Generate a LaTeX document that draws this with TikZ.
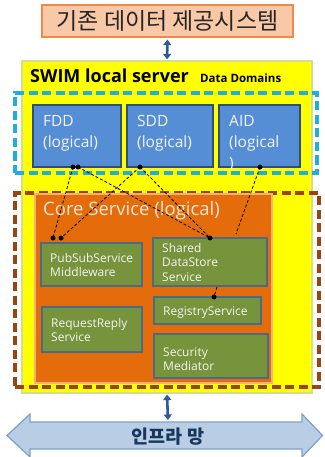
\documentclass[tikz,border=0pt]{standalone}
\usepackage{fontspec}
\setmainfont{Open Sans}
\newfontfamily\kr{Noto Sans CJK KR}
\usetikzlibrary{arrows.meta}

\definecolor{srcFill}{HTML}{F9C8A6}
\definecolor{srcLine}{HTML}{EE8A46}
\definecolor{srvFill}{HTML}{FFFF00}
\definecolor{srvLine}{HTML}{D4DE8C}
\definecolor{domLine}{HTML}{1EAEDF}
\definecolor{coreLine}{HTML}{9A4413}
\definecolor{ddFill}{HTML}{558ED5}
\definecolor{ddLine}{HTML}{2F4F78}
\definecolor{csFill}{HTML}{E46C0A}
\definecolor{csLine}{HTML}{F7B27A}
\definecolor{svcFill}{HTML}{77933C}
\definecolor{svcLine}{HTML}{4A6A8C}
\definecolor{linkBlue}{HTML}{2D5B94}
\definecolor{netFill}{HTML}{B9CDE5}
\definecolor{netLine}{HTML}{7E9FCB}
\definecolor{netText}{HTML}{17375E}
\definecolor{lightText}{HTML}{F4F4F4}
\definecolor{coreText}{HTML}{FBE5D6}

\tikzset{
  box/.style={rectangle, inner sep=0pt},
  ddbox/.style={box, fill=ddFill, draw=ddLine, line width=1.6pt},
  svcbox/.style={box, fill=svcFill, draw=svcLine, line width=2pt},
  ddtext/.style={inner sep=0pt, anchor=north west, align=left, text=lightText,
    font=\fontsize{15.5}{21}\selectfont},
  svctext/.style={inner sep=0pt, anchor=north west, align=left, text=lightText,
    font=\fontsize{12}{14.5}\selectfont},
  zone/.style={box, line width=3.2pt, dash pattern=on 9pt off 4.5pt},
  dot/.style={circle, fill=black, inner sep=0pt, minimum size=5pt},
  link/.style={draw=black, line width=0.8pt, dash pattern=on 3pt off 2pt},
  updown/.style={draw=linkBlue, line width=2.6pt,
    {Triangle[width=8pt,length=5.5pt]}-{Triangle[width=8pt,length=5.5pt]}},
}

\begin{document}
\begin{tikzpicture}[x=1pt,y=-1pt]
\useasboundingbox (0,0) rectangle (324,457);

% legacy data provider system
\node[box, fill=srcFill, draw=srcLine, line width=1.2pt,
      minimum width=251pt, minimum height=32pt,
      font=\kr\fontsize{23}{26}\selectfont, text=black!85] (src) at (167.5,21)
      {기존 데이터 제공시스템};

% local server
\node[box, fill=srvFill, draw=srvLine, line width=1.2pt,
      minimum width=290pt, minimum height=332pt] (srv) at (167,227) {};
\node[inner sep=0pt, anchor=base west, font=\bfseries\fontsize{18}{20}\selectfont]
      (srvT) at (30,83) {SWIM local server};
\node[inner sep=0pt, anchor=base west, font=\bfseries\fontsize{11.5}{14}\selectfont]
      (domT) at (200,83) {Data Domains};

% dashed zones
\node[zone, draw=domLine, minimum width=302pt, minimum height=80pt] (dom) at (166,133) {};
\node[zone, draw=coreLine, minimum width=304pt, minimum height=194pt] (zcore) at (167,290) {};

% core service
\node[box, fill=csFill, draw=csLine, line width=1.2pt,
      minimum width=237pt, minimum height=189pt] (core) at (153.5,288.5) {};
\node[inner sep=0pt, anchor=base west, text=coreText,
      font=\fontsize{18.5}{20}\selectfont] (coreT) at (43,215) {Core Service (logical)};

% data domains
\node[ddbox, minimum width=88pt, minimum height=62pt] (fdd) at (77,136) {};
\node[ddbox, minimum width=86pt, minimum height=62pt] (sdd) at (170,136) {};
\node[ddbox, minimum width=81pt, minimum height=62pt] (aid) at (259.5,136) {};
\node[ddtext] (fddT) at (43,115) {FDD\\(logical)};
\node[ddtext] (sddT) at (137,115) {SDD\\(logical)};
\node[ddtext] (aidT) at (229,115) {AID\\(logical\\)};

% services
\node[svcbox, minimum width=101pt, minimum height=43pt] (pubsub) at (91.5,264.5) {};
\node[svcbox, minimum width=114pt, minimum height=48pt] (shared) at (210,262) {};
\node[svcbox, minimum width=107pt, minimum height=27pt] (reg) at (207.5,310.5) {};
\node[svcbox, minimum width=100pt, minimum height=45pt] (reqrep) at (92,329.5) {};
\node[svcbox, minimum width=114pt, minimum height=44pt] (sec) at (211,356) {};
\node[svctext] (pubsubT) at (50,253) {PubSubService\\Middleware};
\node[svctext] (sharedT) at (162,243) {Shared\\DataStore\\Service};
\node[svctext] (regT) at (163,306) {RegistryService};
\node[svctext] (reqrepT) at (51,318) {RequestReply\\Service};
\node[svctext] (secT) at (163,347) {Security\\Mediator};

% link end points
\node[dot] (fddA) at (73,167) {};
\node[dot] (fddB) at (78,167) {};
\node[dot] (sddA) at (140,167) {};
\node[dot] (aidA) at (260,167) {};
\node[dot] (pubA) at (53,238) {};
\node[dot] (pubB) at (61,238) {};
\node[dot] (shA) at (210,238) {};
\node[dot] (regA) at (214,297) {};
\coordinate (aidEnd) at (236,234);
\coordinate (shB) at (217,287);

% links between domains and services
\draw[link] (fddA.center) -- (pubA.center);
\draw[link] (fddB.center) -- (shA.center);
\draw[link] (sddA.center) -- (pubB.center);
\draw[link] (sddA.center) -- (shA.center);
\draw[link] (aidA.center) -- (aidEnd);
\draw[link] (shB) -- (regA.center);

% infrastructure network
\coordinate (netTop) at (168,421);
\path[fill=netFill, draw=netLine, line width=1.2pt]
  (7,435.5) -- (30,414) -- (30,422) -- (302,422) -- (302,414) -- (322.5,435.5)
  -- (302,457) -- (302,449) -- (30,449) -- (30,457) -- cycle;
\node[inner sep=0pt, text=netText, font=\kr\bfseries\fontsize{18.5}{22}\selectfont]
  (net) at (168,437) {인프라 망};

% vertical exchange arrows
\draw[updown, shorten <=2pt, shorten >=1pt] (src.south) -- (srv.north);
\draw[updown, shorten <=1pt, shorten >=1pt] (srv.south) -- (netTop);
\end{tikzpicture}
\end{document}
